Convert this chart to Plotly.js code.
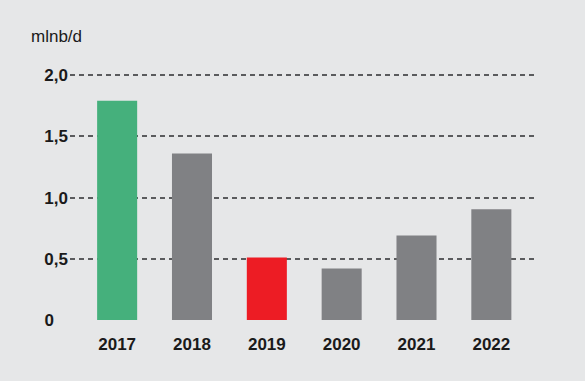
<!DOCTYPE html>
<html><head><meta charset="utf-8">
<script src="https://cdn.plot.ly/plotly-3.0.1.min.js"></script>
<style>html,body{margin:0;padding:0;background:#e6e7e8;}#c{width:585px;height:381px;}</style>
</head><body><div id="c"></div>
<script>
var years = ["2017","2018","2019","2020","2021","2022"];
var values = [1.79, 1.36, 0.51, 0.42, 0.69, 0.905];
var barColors = ["#45b07c","#808184","#ed1c24","#808184","#808184","#808184"];
var tickVals = [0, 0.5, 1.0, 1.5, 2.0];
var tickText = ["0\u00a0\u00a0\u00a0","0,5","1,0","1,5","2,0"];
var unitLabel = "mlnb/d";

var trace = {
  type: "bar", x: years, y: values,
  marker: {color: barColors, line: {width: 0}},
  width: 0.535, hoverinfo: "none"
};
var layout = {
  width: 585, height: 381,
  paper_bgcolor: "#e6e7e8", plot_bgcolor: "#e6e7e8",
  margin: {l: 70, r: 51, t: 69, b: 61},
  showlegend: false,
  font: {family: "Liberation Sans, Arial, sans-serif", color: "#1a1a1a"},
  xaxis: {
    type: "category", range: [-0.63, 5.57],
    showgrid: false, zeroline: false, showline: false, ticks: "",
    tickfont: {size: 17, family: "Liberation Sans, Arial, sans-serif", weight: "bold", color: "#1a1a1a"},
    ticklabelstandoff: 12
  },
  yaxis: {
    range: [0, 2.05], tickvals: tickVals, ticktext: tickText,
    showgrid: true, gridcolor: "#5a5b5d", gridwidth: 2, griddash: "5px,4px",
    zeroline: false, showline: false, ticks: "",
    tickfont: {size: 17, family: "Liberation Sans, Arial, sans-serif", weight: "bold", color: "#1a1a1a"},
    ticklabelstandoff: 1
  },
  annotations: [{
    xref: "paper", yref: "paper", x: -0.088, y: 1.1275, xanchor: "left", yanchor: "middle",
    text: unitLabel, showarrow: false,
    font: {size: 17, family: "Liberation Sans, Arial, sans-serif", color: "#1a1a1a"}
  }]
};
Plotly.newPlot("c", [trace], layout, {displayModeBar: false, staticPlot: true});
</script></body></html>
